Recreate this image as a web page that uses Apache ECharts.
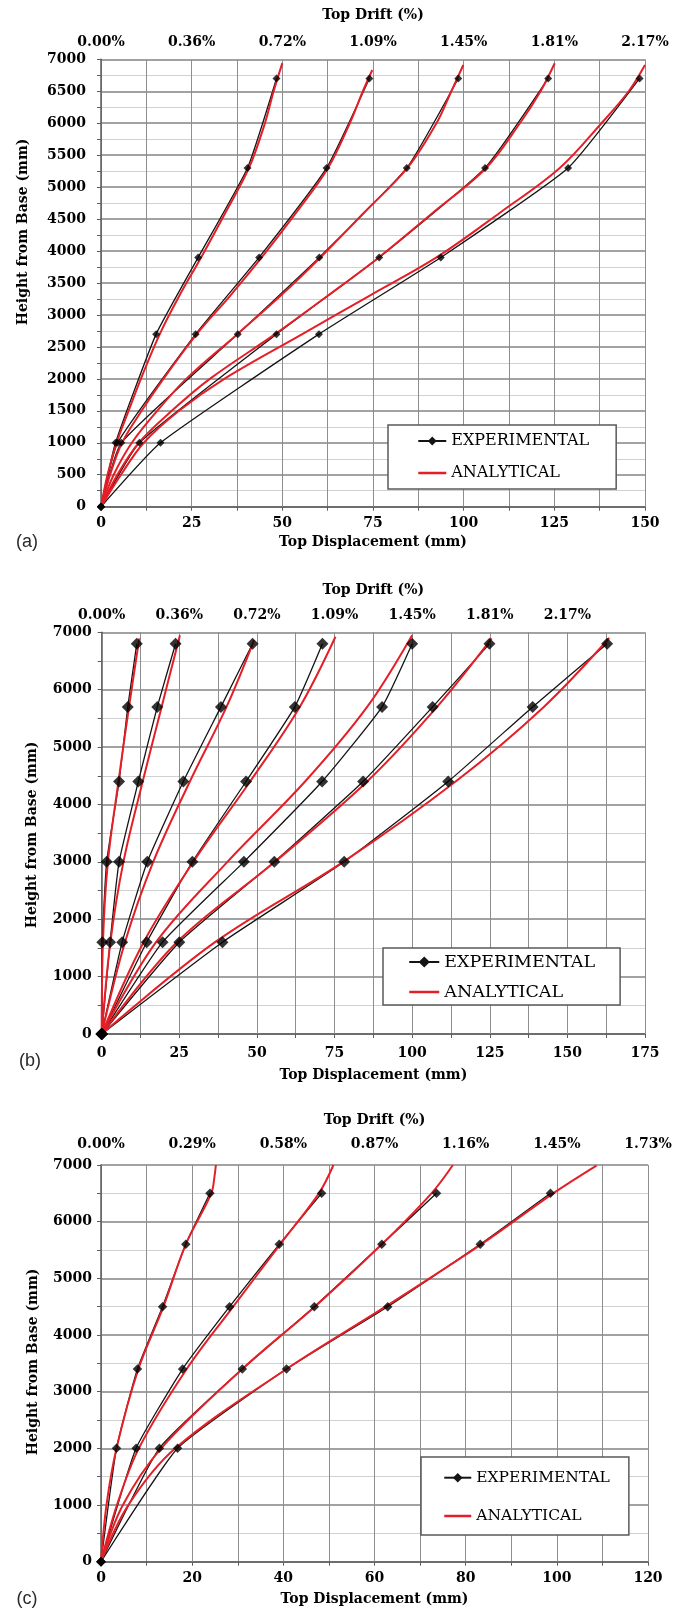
<!DOCTYPE html>
<html>
<head>
<meta charset="utf-8">
<script src="https://cdn.jsdelivr.net/npm/echarts@6/dist/echarts.min.js"></script>
<style>
  html, body { margin: 0; padding: 0; background: #fff; }
  #chart { width: 687px; height: 1611px; }
</style>
</head>
<body>
<div id="chart"></div>
<script>
// ---------- Panel (a) ----------
const heightsA = [0, 1000, 2700, 3900, 5300, 6700];
const expA = [
  [0, 4.0, 15.2, 26.8, 40.4, 48.4],
  [0, 4.6, 26.1, 43.6, 62.2, 74.0],
  [0, 5.6, 37.7, 60.2, 84.3, 98.5],
  [0, 10.6, 48.4, 76.7, 105.9, 123.3],
  [0, 16.4, 60.1, 93.7, 128.8, 148.5]
];
// analytical profiles: [displacement (mm), height (mm)]
const anaA = [
  [[0,0],[1.8,500],[4.3,1000],[7.6,1500],[11.0,2000],[16.2,2700],[21.6,3300],[27.6,3900],[34.3,4600],[40.8,5300],[45.2,6000],[47.6,6500],[50.0,6940]],
  [[0,0],[2.5,500],[5.8,1000],[11.2,1500],[17.2,2000],[26.4,2700],[35.6,3300],[44.3,3900],[53.8,4600],[62.6,5300],[68.6,6000],[72.2,6500],[74.8,6833]],
  [[0,0],[3.5,500],[8.5,1000],[15.5,1500],[23.5,2000],[37.6,2700],[49.5,3300],[60.5,3900],[72.5,4600],[84.5,5300],[92.5,6000],[96.6,6500],[99.9,6911]],
  [[0,0],[4.5,500],[10.4,1000],[19.5,1500],[30.0,2000],[48.0,2700],[62.5,3300],[76.6,3900],[91.5,4600],[106.2,5300],[115.5,6000],[121.2,6500],[125.1,6938]],
  [[0,0],[5.5,500],[11.8,1000],[21.5,1500],[34.0,2000],[55.5,2700],[74.0,3300],[92.5,3900],[110.0,4600],[126.5,5300],[138.0,6000],[145.5,6500],[150.0,6911]]
];
const driftA = ['0.00%', '0.36%', '0.72%', '1.09%', '1.45%', '1.81%', '2.17%'];

// ---------- Panel (b) ----------
const heightsB = [0, 1600, 3000, 4400, 5700, 6800];
const expB = [
  [0, 0.2, 1.6, 5.6, 8.4, 11.3],
  [0, 2.7, 5.6, 11.8, 17.9, 23.8],
  [0, 6.6, 14.7, 26.3, 38.4, 48.6],
  [0, 14.5, 29.2, 46.5, 62.2, 71.1],
  [0, 19.6, 45.8, 71.0, 90.3, 100.0],
  [0, 25.0, 55.6, 84.2, 106.6, 124.9],
  [0, 38.9, 78.1, 111.6, 138.8, 162.8]
];
const anaB = [
  [[0,0],[0.4,1600],[2.0,3000],[5.4,4400],[8.8,5700],[12.1,6895]],
  [[0,0],[2.8,1600],[7.0,3000],[13.2,4400],[19.3,5700],[25.2,6950]],
  [[0,0],[7.5,1600],[16.6,3000],[28.4,4400],[40.2,5700],[49.1,6865]],
  [[0,0],[13.5,1600],[29.5,3000],[47.8,4400],[63.8,5700],[75.3,6923]],
  [[0,0],[17.5,1600],[40.5,3000],[65.5,4400],[85.5,5700],[100,6950]],
  [[0,0],[24.2,1600],[55.8,3000],[85.5,4400],[108,5700],[125.6,6895]],
  [[0,0],[36.5,1600],[77.8,3000],[114,4400],[142.4,5700],[163.5,6900]]
];
const driftB = ['0.00%', '0.36%', '0.72%', '1.09%', '1.45%', '1.81%', '2.17%'];

// ---------- Panel (c) ----------
const heightsC = [0, 2000, 3400, 4500, 5600, 6500];
const expC = [
  [0, 3.4, 8.0, 13.5, 18.6, 23.9],
  [0, 7.7, 17.9, 28.2, 39.1, 48.4],
  [0, 12.8, 31.0, 46.8, 61.6, 73.6],
  [0, 16.8, 40.7, 62.9, 83.2, 98.6]
];
const anaC = [
  [[0,0],[1.2,1000],[3.4,2000],[8.2,3400],[13.7,4500],[18.6,5600],[24.2,6500],[24.9,6800],[25.2,7000]],
  [[0,0],[3.5,1000],[8.3,2000],[18.8,3400],[29.0,4500],[39.3,5600],[47.8,6500],[51.0,7000]],
  [[0,0],[4.8,1000],[13.2,2000],[31.0,3400],[46.9,4500],[61.6,5600],[72.5,6500],[77.2,7000]],
  [[0,0],[6.0,1000],[16.3,2000],[40.7,3400],[62.4,4500],[83.4,5600],[99.2,6500],[108.7,6990]]
];
const driftC = ['0.00%', '0.29%', '0.58%', '0.87%', '1.16%', '1.45%', '1.73%'];

// ---------- styling ----------
const SERIF = 'DejaVu Serif';
const BLACK = '#141414';
const RED = '#e51f27';

const panels = [
  { grid: { left: 101, top: 59.3, width: 544, height: 447.4 },
    xMax: 150, xStep: 25, yStep: 500, drift: driftA,
    heights: heightsA, exp: expA, ana: anaA, mark: 8,
    yLabelMargin: 15, xLabelMargin: 10, topLabelMargin: 10, xNameGap: 29, topNameGap: 36.5 },
  { grid: { left: 101.7, top: 632.3, width: 543.3, height: 401.7 },
    xMax: 175, xStep: 25, yStep: 1000, drift: driftB,
    heights: heightsB, exp: expB, ana: anaB, mark: 12,
    yLabelMargin: 10, xLabelMargin: 12, topLabelMargin: 10, xNameGap: 34, topNameGap: 35 },
  { grid: { left: 101, top: 1165, width: 547, height: 396.7 },
    xMax: 120, xStep: 20, yStep: 1000, drift: driftC,
    heights: heightsC, exp: expC, ana: anaC, mark: 9.5,
    yLabelMargin: 9, xLabelMargin: 10, topLabelMargin: 14, xNameGap: 31, topNameGap: 38 }
];

const tickFont = { fontFamily: SERIF, fontWeight: 'bold', fontSize: 14, color: '#000' };
const vGrid = { color: '#8e8e8e', width: 1 };

const grids = [], xAxes = [], yAxes = [], series = [];

panels.forEach((p, g) => {
  grids.push(p.grid);

  // bottom displacement axis
  xAxes.push({
    type: 'value', gridIndex: g, position: 'bottom',
    min: 0, max: p.xMax, interval: p.xStep,
    name: 'Top Displacement (mm)', nameLocation: 'middle', nameGap: p.xNameGap,
    nameTextStyle: tickFont,
    axisLine: { show: true, onZero: false, lineStyle: { color: '#5c5c5c', width: 1.5 } },
    axisTick: { show: true, length: 4, lineStyle: { color: '#5c5c5c' } },
    minorTick: { show: true, splitNumber: 2, length: 4, lineStyle: { color: '#5c5c5c' } },
    axisLabel: Object.assign({ margin: p.xLabelMargin, formatter: v => String(v) }, tickFont),
    splitLine: { show: true, lineStyle: vGrid },
    minorSplitLine: { show: true, lineStyle: vGrid }
  });

  // top drift axis (labels only)
  xAxes.push({
    type: 'value', gridIndex: g, position: 'top',
    min: 0, max: p.xMax, interval: p.xStep,
    name: 'Top Drift (%)', nameLocation: 'middle', nameGap: p.topNameGap,
    nameTextStyle: tickFont,
    axisLine: { show: false },
    axisTick: { show: true, length: 3, lineStyle: { color: '#8e8e8e' } },
    axisLabel: Object.assign({
      margin: p.topLabelMargin,
      formatter: v => p.drift[Math.round(v / p.xStep)] || ''
    }, tickFont),
    splitLine: { show: false }
  });

  yAxes.push({
    type: 'value', gridIndex: g,
    min: 0, max: 7000, interval: p.yStep,
    axisLine: { show: true, onZero: false, lineStyle: { color: '#5c5c5c', width: 1.5 } },
    axisTick: { show: true, length: 4, lineStyle: { color: '#5c5c5c' } },
    minorTick: { show: true, splitNumber: 2, length: 4, lineStyle: { color: '#5c5c5c' } },
    axisLabel: Object.assign({ margin: p.yLabelMargin, formatter: v => String(v) }, tickFont),
    splitLine: { show: true, lineStyle: { color: '#a2a2a2', width: 2 } },
    minorSplitLine: { show: true, lineStyle: { color: '#d0d0d0', width: 1 } }
  });

  const xi = 2 * g;
  // experimental profiles (lines)
  p.exp.forEach(d => series.push({
    type: 'line', name: 'EXPERIMENTAL', xAxisIndex: xi, yAxisIndex: g,
    data: p.heights.map((h, j) => [d[j], h]),
    symbol: 'diamond', showSymbol: false, smooth: 0.15,
    lineStyle: { color: BLACK, width: 1.3 }, itemStyle: { color: BLACK },
    z: 2, silent: true
  }));
  // analytical profiles
  p.ana.forEach(c => series.push({
    type: 'line', name: 'ANALYTICAL', xAxisIndex: xi, yAxisIndex: g,
    data: c, symbol: 'none', smooth: 0.35,
    lineStyle: { color: RED, width: 2 }, itemStyle: { color: RED },
    z: 3, silent: true
  }));
  // experimental measurement points
  p.exp.forEach(d => series.push({
    type: 'scatter', name: 'EXPERIMENTAL', xAxisIndex: xi, yAxisIndex: g,
    data: p.heights.map((h, j) => [d[j], h]),
    symbol: 'diamond', symbolSize: p.mark,
    itemStyle: { color: '#000' }, z: 4, silent: true
  }));
});

function makeLegend(left, top, padding, itemGap, itemWidth, itemHeight, fontSize, lineHeight) {
  return {
    data: [
      'EXPERIMENTAL',
      { name: 'ANALYTICAL', itemStyle: { opacity: 0 }, lineStyle: { width: 2.5 } }
    ],
    orient: 'vertical',
    left, top, padding, itemGap, itemWidth, itemHeight,
    selectedMode: false,
    backgroundColor: '#fff', borderColor: '#5a5a5a', borderWidth: 1.5,
    textStyle: { fontFamily: SERIF, fontSize, lineHeight, color: '#000' }
  };
}

const legends = [
  makeLegend(388, 425, [7.5, 27, 7.5, 29], 15, 28, 11, 16, 17),
  makeLegend(383, 948, [5, 25, 4, 25], 12, 30, 14, 17.5, 18),
  makeLegend(421, 1457, [12.2, 19, 10.5, 22], 21.3, 27, 12, 15.5, 17)
];

function vTitle(x, y) {
  return {
    type: 'text', x, y, rotation: Math.PI / 2,
    style: { text: 'Height from Base (mm)', fontFamily: SERIF, fontWeight: 'bold', fontSize: 14,
             fill: '#000', align: 'center', verticalAlign: 'middle' }
  };
}
function tag(text, x, y) {
  return {
    type: 'text', x, y,
    style: { text, fontFamily: 'Liberation Sans', fontSize: 18, fill: '#2a2a2a',
             align: 'center', verticalAlign: 'middle' }
  };
}

const chart = echarts.init(document.getElementById('chart'), null, { renderer: 'canvas' });
chart.setOption({
  animation: false,
  backgroundColor: '#fff',
  grid: grids,
  xAxis: xAxes,
  yAxis: yAxes,
  legend: legends,
  series,
  graphic: [
    vTitle(23, 232), vTitle(32, 835), vTitle(33, 1362),
    tag('(a)', 27, 542), tag('(b)', 30, 1061), tag('(c)', 27, 1599)
  ]
});
</script>
</body>
</html>
